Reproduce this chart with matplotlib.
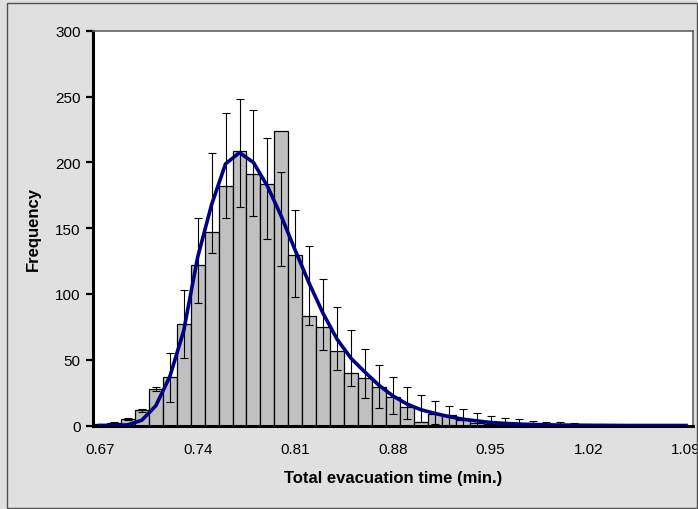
import matplotlib
matplotlib.use("Agg")
import matplotlib.pyplot as plt
import numpy as np
from matplotlib.patches import Rectangle

plt.rcParams['font.family'] = ['Liberation Sans', 'DejaVu Sans']

categories = ["0.67", "0.68", "0.69", "0.70", "0.71", "0.72", "0.73", "0.74", "0.75", "0.76",
              "0.77", "0.78", "0.79", "0.80", "0.81", "0.82", "0.83", "0.84", "0.85", "0.86",
              "0.87", "0.88", "0.89", "0.90", "0.91", "0.92", "0.93", "0.94", "0.95", "0.96",
              "0.97", "0.98", "0.99", "1.00", "1.01", "1.02", "1.03", "1.04", "1.05", "1.06",
              "1.07", "1.08", "1.09"]

frequency = [1, 2, 5, 11.5, 28, 37, 77, 122, 147, 182,
             209, 191, 184, 224, 130, 83, 75, 57, 40, 36,
             29, 22, 14, 3, 9, 8, 4.5, 2, 1.5, 1,
             0.5, 0.5, 0, 0.3, 0, 0, 0, 0, 0, 0,
             0, 0, 0]

err_high = [1.2, 2.5, 6, 12.7, 29, 55, 103, 158, 207, 238,
            248, 240, 219, 193, 163.5, 136.5, 111.5, 90, 72.5, 58.5,
            46, 37, 29, 23.3, 18.6, 15, 12.3, 9.3, 7.2, 6,
            4.6, 3.5, 2.6, 2.4, 1.6, 1.5, 0.9, 0.6, 0.5, 0.4,
            0.3, 0.2, 0.2]

err_low = [0.5, 1.5, 4, 10.5, 26, 18, 51, 93, 131.5, 158,
           166.5, 159, 142, 121, 97.7, 76.2, 57.7, 42.5, 30.4, 21,
           13.4, 8.9, 5, 3, 1.5, 0.5, 0, 0, 0, 0,
           0, 0, 0, 0, 0, 0, 0, 0, 0, 0,
           0, 0, 0]

fitted = [0, 0, 0.5, 4, 15, 37, 72, 128, 168, 199,
          207.5, 200, 182, 159, 133, 108, 85, 65.5, 51, 40.5,
          30.5, 22.5, 16.3, 12, 9.2, 6.8, 4.8, 3.5, 2.3, 1.6,
          1.1, 0.8, 0.5, 0.35, 0.25, 0.15, 0.1, 0.05, 0, 0,
          0, 0, 0]

xtick_every = 7
yticks = [0, 50, 100, 150, 200, 250, 300]

W, H = 698, 510
fig = plt.figure(figsize=(W / 100, H / 100), dpi=100)
fig.patch.set_facecolor('#E0E0E0')
fig.patches.append(Rectangle((7 / W, 1 - 509 / H), 690 / W, 505 / H, transform=fig.transFigure,
                             fill=False, edgecolor='#505050', linewidth=1.0))

ax = fig.add_axes([93 / W, 1 - 426.5 / H, 600 / W, 394.5 / H])
ax.set_facecolor('white')

x = np.arange(len(categories))
freq = np.array(frequency, dtype=float)
hi = np.array(err_high, dtype=float)
lo = np.array(err_low, dtype=float)

ax.bar(x, freq, width=1.0, color='#C0C0C0', edgecolor='black', linewidth=0.9, zorder=2)
ax.errorbar(x, (hi + lo) / 2, yerr=(hi - lo) / 2, fmt='none', ecolor='black',
            elinewidth=0.8, capsize=3, capthick=0.8, zorder=3)
ax.plot(x, fitted, color='#000080', linewidth=2.6, zorder=4, solid_joinstyle='round')

ax.set_xlim(-0.5, len(categories) - 0.5)
ax.set_ylim(0, 300)
ax.set_yticks(yticks)
ax.set_xticks(x[::xtick_every])
ax.set_xticklabels(categories[::xtick_every])
ax.tick_params(axis='x', length=0, pad=12, labelsize=11)
ax.tick_params(axis='y', direction='out', length=5, width=1.6, pad=4, labelsize=11)

for s in ['left', 'bottom']:
    ax.spines[s].set_linewidth(2.2)
    ax.spines[s].set_color('black')
for s in ['top', 'right']:
    ax.spines[s].set_linewidth(1.2)
    ax.spines[s].set_color('#606060')

fig.text(393 / W, 1 - 479 / H, "Total evacuation time (min.)", ha='center', va='center',
         fontsize=12, fontweight='bold')
fig.text(33 / W, 1 - 229 / H, "Frequency", ha='center', va='center', rotation=90,
         fontsize=12, fontweight='bold')

fig.savefig("out.png", dpi=100, facecolor=fig.get_facecolor())
